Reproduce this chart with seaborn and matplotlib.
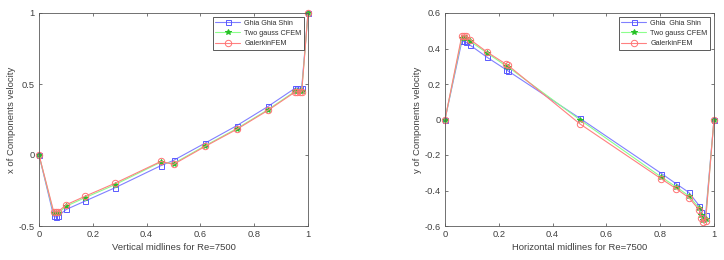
import numpy as np
import pandas as pd
import seaborn as sns
import matplotlib
matplotlib.use("Agg")
import matplotlib.pyplot as plt

# ---- Left: u along vertical midline ----
yv = [0.0, 0.0547, 0.0625, 0.0703, 0.1016, 0.1719, 0.2813, 0.4531, 0.5,
      0.6172, 0.7344, 0.8516, 0.9531, 0.9609, 0.9688, 0.9766, 1.0]
u_ghia = [0.0, -0.43154, -0.43590, -0.43025, -0.38324, -0.32393, -0.23176, -0.07503, -0.03800,
          0.08342, 0.20591, 0.34228, 0.47167, 0.47323, 0.47048, 0.47244, 1.0]
u_cfem = [0.0, -0.41, -0.41, -0.41, -0.36, -0.30, -0.21, -0.05, -0.06,
          0.065, 0.185, 0.32, 0.45, 0.45, 0.45, 0.45, 1.0]
u_gal = [0.0, -0.40, -0.40, -0.40, -0.35, -0.29, -0.20, -0.045, -0.066,
         0.06, 0.18, 0.315, 0.445, 0.445, 0.445, 0.445, 1.0]

# ---- Right: v along horizontal midline ----
xh = [0.0, 0.0625, 0.0703, 0.0781, 0.0938, 0.1563, 0.2266, 0.2344, 0.5,
      0.8047, 0.8594, 0.9063, 0.9453, 0.9531, 0.9609, 0.9688, 1.0]
v_ghia = [0.0, 0.43979, 0.44030, 0.43564, 0.41824, 0.35060, 0.28117, 0.27348, 0.00824,
          -0.30448, -0.36213, -0.41050, -0.48590, -0.52347, -0.55216, -0.53858, 0.0]
v_cfem = [0.0, 0.46, 0.46, 0.458, 0.44, 0.375, 0.302, 0.296, 0.0,
          -0.325, -0.38, -0.43, -0.50, -0.54, -0.565, -0.56, 0.0]
v_gal = [0.0, 0.472, 0.472, 0.468, 0.45, 0.38, 0.312, 0.305, -0.023,
         -0.335, -0.39, -0.44, -0.51, -0.555, -0.58, -0.57, 0.0]

labels_left = ["Ghia Ghia Shin", "Two gauss CFEM", "GalerkinFEM"]
labels_right = ["Ghia  Ghia Shin", "Two gauss CFEM", "GalerkinFEM"]

sns.set_theme(style="white")
plt.rcParams['font.family'] = ['Liberation Sans', 'DejaVu Sans']

fig = plt.figure(figsize=(7.24, 2.60), dpi=100)
W, H = 724, 260
axL = fig.add_axes([39 / W, 1 - 226 / H, (308 - 39) / W, (226 - 13) / H])
axR = fig.add_axes([445 / W, 1 - 226 / H, (714 - 445) / W, (226 - 13) / H])

TXT = "#404040"
styles = [
    dict(color=(0.5, 0.5, 1.0), marker="s", mfc="none", mec=(0.35, 0.35, 1.0), ms=3.6),
    dict(color=(0.55, 1.0, 0.55), marker="*", mfc=(0.15, 0.75, 0.15), mec=(0.15, 0.75, 0.15), ms=4.0),
    dict(color=(1.0, 0.5, 0.5), marker="o", mfc="none", mec=(1.0, 0.45, 0.45), ms=4.6),
]

def draw(ax, x, ys, labels):
    for y, lab, st in zip(ys, labels, styles):
        df = pd.DataFrame({"x": x, "y": y})
        sns.lineplot(data=df, x="x", y="y", ax=ax, sort=False, estimator=None,
                     color=st["color"], marker=st["marker"], markerfacecolor=st["mfc"],
                     markeredgecolor=st["mec"], markersize=st["ms"],
                     markeredgewidth=0.7, linewidth=0.8, label=lab, clip_on=False)
    ax.set_xlim(0, 1)
    ax.tick_params(direction="in", length=2.5, labelsize=6.7, colors=TXT,
                   top=True, right=True, bottom=True, left=True, pad=3, width=0.5)
    for s in ax.spines.values():
        s.set_color("#5a5a5a")
        s.set_linewidth(0.6)
    leg = ax.legend(loc="upper right", fontsize=5.2, frameon=True, fancybox=False,
                    borderpad=0.35, labelspacing=0.45, handlelength=3.4,
                    handletextpad=0.6, borderaxespad=0.55, framealpha=1)
    leg.get_frame().set_edgecolor("#404040")
    leg.get_frame().set_linewidth(0.6)
    for t in leg.get_texts():
        t.set_color("#303030")

draw(axL, yv, [u_ghia, u_cfem, u_gal], labels_left)
axL.set_ylim(-0.5, 1)
axL.set_xticks([0, 0.2, 0.4, 0.6, 0.8, 1])
axL.set_xticklabels(["0", "0.2", "0.4", "0.6", "0.8", "1"])
axL.set_yticks([-0.5, 0, 0.5, 1])
axL.set_yticklabels(["-0.5", "0", "0.5", "1"])
axL.set_xlabel("Vertical midlines for Re=7500", fontsize=6.8, color=TXT, labelpad=3)
axL.set_ylabel("x of Components velocity", fontsize=6.8, color=TXT, labelpad=2)

draw(axR, xh, [v_ghia, v_cfem, v_gal], labels_right)
axR.set_ylim(-0.6, 0.6)
axR.set_xticks([0, 0.2, 0.4, 0.6, 0.8, 1])
axR.set_xticklabels(["0", "0.2", "0.4", "0.6", "0.8", "1"])
axR.set_yticks([-0.6, -0.4, -0.2, 0, 0.2, 0.4, 0.6])
axR.set_yticklabels(["-0.6", "-0.4", "-0.2", "0", "0.2", "0.4", "0.6"])
axR.set_xlabel("Horizontal midlines for Re=7500", fontsize=6.8, color=TXT, labelpad=3)
axR.set_ylabel("y of Components velocity", fontsize=6.8, color=TXT, labelpad=2)

fig.savefig("out.png", dpi=100, facecolor="white")
